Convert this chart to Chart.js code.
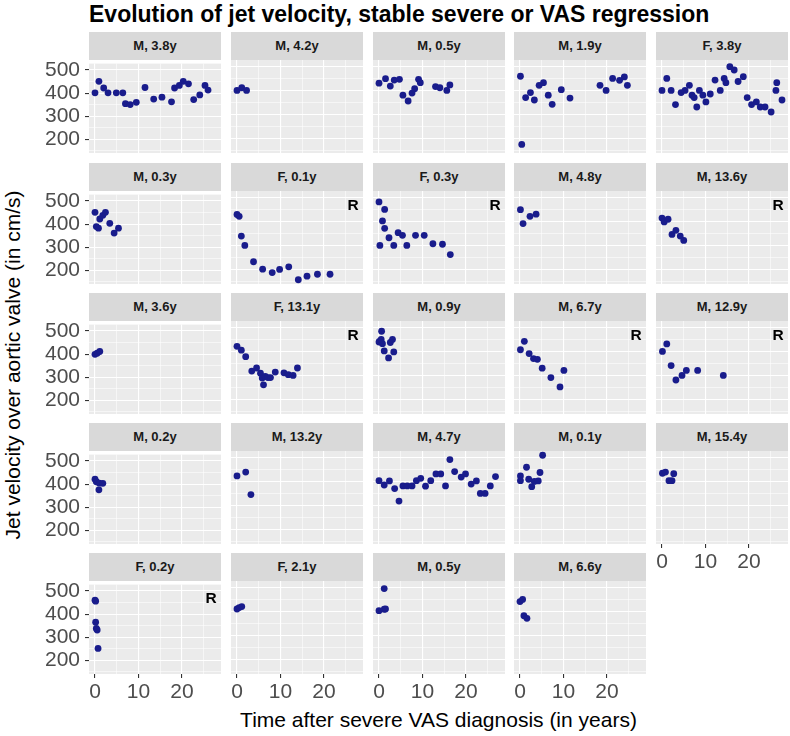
<!DOCTYPE html>
<html>
<head>
<meta charset="utf-8">
<script src="https://cdn.jsdelivr.net/npm/chart.js@4.4.0/dist/chart.umd.min.js"></script>
<style>
  html, body { margin: 0; padding: 0; background: #fff; }
  body { width: 790px; height: 736px; position: relative; overflow: hidden;
         font-family: 'Liberation Sans', Arial, sans-serif; }
  canvas { position: absolute; }
  .strip { position: absolute; background: #d9d9d9; color: #1a1a1a; font-weight: bold;
           font-size: 13px; text-align: center; }
  #title { position: absolute; left: 89px; top: 0; height: 28px; line-height: 28px;
           font-size: 23px; font-weight: bold; color: #000; white-space: nowrap; }
  #xtitle { position: absolute; left: 89px; width: 699px; top: 707px; height: 26px; line-height: 26px;
            font-size: 21px; text-align: center; color: #000; white-space: nowrap; }
  #ytitle { position: absolute; left: 13px; top: 365px; font-size: 21px; color: #000; white-space: nowrap;
            transform: translate(-50%, -50%) rotate(-90deg); }
</style>
</head>
<body>
<div id="title">Evolution of jet velocity, stable severe or VAS regression</div>
<div id="ytitle">Jet velocity over aortic valve (in cm/s)</div>
<div id="xtitle">Time after severe VAS diagnosis (in years)</div>
<script>
/* DATA */

const panelLabels = ['M, 3.8y', 'M, 4.2y', 'M, 0.5y', 'M, 1.9y', 'F, 3.8y',
  'M, 0.3y', 'F, 0.1y', 'F, 0.3y', 'M, 4.8y', 'M, 13.6y',
  'M, 3.6y', 'F, 13.1y', 'M, 0.9y', 'M, 6.7y', 'M, 12.9y',
  'M, 0.2y', 'M, 13.2y', 'M, 4.7y', 'M, 0.1y', 'M, 15.4y',
  'F, 0.2y', 'F, 2.1y', 'M, 0.5y', 'M, 6.6y'];

// panels that are marked "R" (regression)
const regressionPanels = [6, 7, 9, 11, 13, 14, 20];

const timeYears = [
  [0, 0.9, 2.0, 3.0, 4.9, 6.4, 7.0, 8.1, 9.5, 11.5, 13.5, 15.4, 17.6, 18.3, 19.4, 20.3, 21.5, 22.7, 24.1, 25.3, 26.0],
  [0, 1.1, 2.2],
  [0, 1.5, 2.6, 3.5, 4.7, 5.5, 6.7, 7.6, 8.2, 9.1, 9.5, 13.0, 14.0, 15.6, 16.3],
  [0.1, 0.4, 1.3, 2.4, 3.3, 4.4, 5.4, 6.5, 7.4, 9.5, 11.5, 18.4, 19.8, 21.3, 22.9, 24.0, 24.7],
  [0, 1.1, 2.1, 3.1, 4.4, 5.3, 6.3, 6.9, 7.4, 8.0, 8.6, 9.4, 10.1, 11.1, 12.2, 13.4, 14.3, 14.7, 15.6, 16.6, 17.5, 18.7, 19.6, 20.6, 21.7, 22.6, 23.7, 25.1, 26.2, 26.4, 27.6],
  [0, 0.3, 0.8, 1.1, 1.8, 2.4, 3.4, 4.4, 5.4],
  [0, 0.5, 1.0, 1.8, 3.8, 5.9, 8.1, 9.8, 11.9, 14.1, 16.1, 18.5, 21.4],
  [0, 0.2, 0.8, 1.3, 1.3, 2.3, 3.4, 4.4, 5.4, 6.4, 8.4, 10.4, 12.4, 14.6, 16.4],
  [0.1, 0.7, 2.3, 3.7],
  [0, 0.5, 1.4, 2.3, 3.2, 4.2, 5.0],
  [0, 0.5, 1.1],
  [0, 1.0, 2.0, 3.4, 4.5, 5.4, 5.8, 6.1, 6.5, 7.1, 7.7, 8.8, 10.8, 11.8, 12.9, 13.9],
  [0, 0.1, 0.5, 0.6, 0.8, 1.2, 2.2, 2.6, 3.1, 3.4],
  [0.1, 1.0, 2.1, 3.1, 4.0, 5.1, 7.1, 9.2, 10.1],
  [0.1, 1.1, 2.1, 3.2, 4.6, 5.6, 8.2, 14.1],
  [0, 0.3, 0.9, 1.0, 1.8],
  [0, 2.0, 3.2],
  [0, 1.2, 2.4, 3.6, 4.6, 5.5, 6.5, 7.6, 8.6, 9.6, 10.7, 11.9, 13.1, 14.2, 15.3, 16.3, 17.4, 18.9, 19.9, 21.2, 22.4, 23.3, 24.4, 25.6, 26.8],
  [0.1, 0.1, 1.5, 2.0, 2.7, 3.3, 4.2, 4.6, 5.2],
  [0.1, 0.8, 1.6, 2.3, 2.7],
  [0, 0.15, 0.15, 0.3, 0.5, 0.7],
  [0, 0.5, 1.1],
  [0, 1.2, 1.2, 1.5],
  [0, 0.6, 0.9, 1.6]
];

const jetVelocity = [
  [401, 451, 422, 401, 401, 401, 354, 350, 360, 424, 374, 382, 362, 422, 433, 451, 440, 372, 392, 433, 413],
  [401, 412, 401],
  [431, 450, 419, 444, 447, 381, 357, 390, 408, 447, 433, 417, 412, 401, 424],
  [460, 176, 371, 392, 361, 422, 433, 381, 343, 404, 369, 422, 401, 451, 443, 457, 422],
  [401, 451, 401, 342, 392, 401, 422, 381, 371, 332, 401, 381, 353, 386, 444, 401, 451, 433, 500, 486, 438, 458, 371, 342, 353, 332, 332, 311, 401, 433, 361],
  [451, 389, 382, 422, 438, 451, 403, 361, 382],
  [430, 422, 340, 301, 233, 202, 188, 201, 212, 158, 173, 181, 181],
  [482, 301, 403, 451, 372, 333, 301, 354, 343, 301, 343, 343, 308, 306, 263],
  [450, 392, 422, 431],
  [415, 399, 410, 347, 364, 340, 322],
  [399, 404, 411],
  [422, 406, 379, 319, 332, 310, 290, 262, 297, 292, 292, 315, 312, 304, 301, 332],
  [440, 443, 451, 485, 433, 403, 374, 438, 451, 399],
  [408, 443, 392, 371, 368, 331, 292, 253, 322],
  [401, 432, 342, 282, 301, 322, 322, 301],
  [421, 410, 375, 404, 403],
  [424, 440, 346],
  [404, 386, 403, 371, 319, 382, 382, 382, 404, 414, 381, 404, 432, 432, 382, 492, 442, 419, 432, 390, 403, 351, 351, 382, 421],
  [424, 404, 460, 410, 379, 401, 403, 438, 510],
  [435, 440, 404, 404, 433],
  [460, 456, 365, 338, 331, 251],
  [411, 417, 421],
  [404, 496, 410, 411],
  [442, 451, 383, 372]
];

const yTickLabels = [200, 300, 400, 500];
const yMinorTicks = [150, 250, 350, 450];
const xTickLabels = [0, 10, 20];
const xMinorTicks = [5, 15, 25];

// where the "R" mark sits, in data units
const rMarkX = 26.7;
const rMarkY = 466;

/* LAYOUT */

const FONT = "'Liberation Sans', Arial, sans-serif";
const PAD_L = 90, PAD_R = 8, PAD_T = 14, PAD_B = 40;
const PLOT_W = 132, PLOT_H = 93, STRIP_H = 28;

// ggplot style 5% expansion of the shared data range
const allX = timeYears.flat();
const allY = jetVelocity.flat();
const xLo = Math.min(...allX), xHi = Math.max(...allX);
const yLo = Math.min(...allY), yHi = Math.max(...allY);
const xMin = xLo - (xHi - xLo) * 0.05, xMax = xHi + (xHi - xLo) * 0.05;
const yMin = yLo - (yHi - yLo) * 0.05, yMax = yHi + (yHi - yLo) * 0.05;

const yGrid = yMinorTicks.concat(yTickLabels).sort((a, b) => a - b);
const xGrid = xMinorTicks.concat(xTickLabels).sort((a, b) => a - b);

const panelBg = {
  id: 'panelBg',
  beforeDraw(chart) {
    const a = chart.chartArea;
    chart.ctx.save();
    chart.ctx.fillStyle = '#ebebeb';
    chart.ctx.fillRect(a.left, a.top, a.right - a.left, a.bottom - a.top);
    chart.ctx.restore();
  }
};

const rLabel = {
  id: 'rLabel',
  afterDatasetsDraw(chart, args, opts) {
    if (!opts.show) return;
    const ctx = chart.ctx;
    ctx.save();
    ctx.font = 'bold 15.5px ' + FONT;
    ctx.fillStyle = '#000';
    ctx.textAlign = 'center';
    ctx.textBaseline = 'middle';
    ctx.fillText('R', chart.scales.x.getPixelForValue(rMarkX), chart.scales.y.getPixelForValue(rMarkY));
    ctx.restore();
  }
};

panelLabels.forEach(function(label, i) {
  const row = Math.floor(i / 5);
  const col = i % 5;
  const left = Math.round(89.3 + col * 141.6);
  const top = Math.round(60.3 + row * 130.2);
  const showY = col === 0;
  const showX = row === 4 || i === 19;

  const strip = document.createElement('div');
  strip.className = 'strip';
  strip.style.left = left + 'px';
  strip.style.top = (top - STRIP_H) + 'px';
  strip.style.width = PLOT_W + 'px';
  strip.style.height = STRIP_H + 'px';
  strip.style.lineHeight = STRIP_H + 'px';
  strip.textContent = label;
  document.body.appendChild(strip);

  const cv = document.createElement('canvas');
  cv.width = PLOT_W + PAD_L + PAD_R;
  cv.height = PLOT_H + PAD_T + PAD_B;
  cv.style.left = (left - PAD_L) + 'px';
  cv.style.top = (top - PAD_T) + 'px';
  document.body.appendChild(cv);

  const points = timeYears[i].map(function(x, k) {
    return { x: x, y: jetVelocity[i][k] };
  });

  new Chart(cv, {
    type: 'scatter',
    data: {
      datasets: [{
        data: points,
        backgroundColor: '#191c8c',
        borderWidth: 0,
        pointRadius: 3.4,
        pointHoverRadius: 3.4,
        clip: false
      }]
    },
    options: {
      responsive: false,
      animation: false,
      events: [],
      layout: { padding: { top: PAD_T, right: PAD_R, left: 0, bottom: 0 } },
      plugins: {
        legend: { display: false },
        tooltip: { enabled: false },
        rLabel: { show: regressionPanels.includes(i) }
      },
      scales: {
        x: {
          type: 'linear',
          min: xMin,
          max: xMax,
          afterFit: function(s) { s.height = PAD_B; },
          afterBuildTicks: function(s) { s.ticks = xGrid.map(v => ({ value: v })); },
          border: { display: false },
          grid: {
            color: '#ffffff',
            lineWidth: c => xTickLabels.includes(c.tick.value) ? 1.1 : 0.55,
            tickLength: 4,
            tickWidth: 1.1,
            tickColor: c => showX && xTickLabels.includes(c.tick.value) ? '#333333' : 'rgba(0,0,0,0)'
          },
          ticks: {
            display: showX,
            autoSkip: false,
            maxRotation: 0,
            padding: 2,
            color: '#4d4d4d',
            font: { family: FONT, size: 21 },
            callback: v => xTickLabels.includes(v) ? String(v) : ''
          }
        },
        y: {
          type: 'linear',
          min: yMin,
          max: yMax,
          afterFit: function(s) { s.width = PAD_L; },
          afterBuildTicks: function(s) { s.ticks = yGrid.map(v => ({ value: v })); },
          border: { display: false },
          grid: {
            color: '#ffffff',
            lineWidth: c => yTickLabels.includes(c.tick.value) ? 1.1 : 0.55,
            tickLength: 4,
            tickWidth: 1.1,
            tickColor: c => showY && yTickLabels.includes(c.tick.value) ? '#333333' : 'rgba(0,0,0,0)'
          },
          ticks: {
            display: showY,
            autoSkip: false,
            padding: 5,
            color: '#4d4d4d',
            font: { family: FONT, size: 21 },
            callback: v => yTickLabels.includes(v) ? String(v) : ''
          }
        }
      }
    },
    plugins: [panelBg, rLabel]
  });
});
</script>
</body>
</html>
